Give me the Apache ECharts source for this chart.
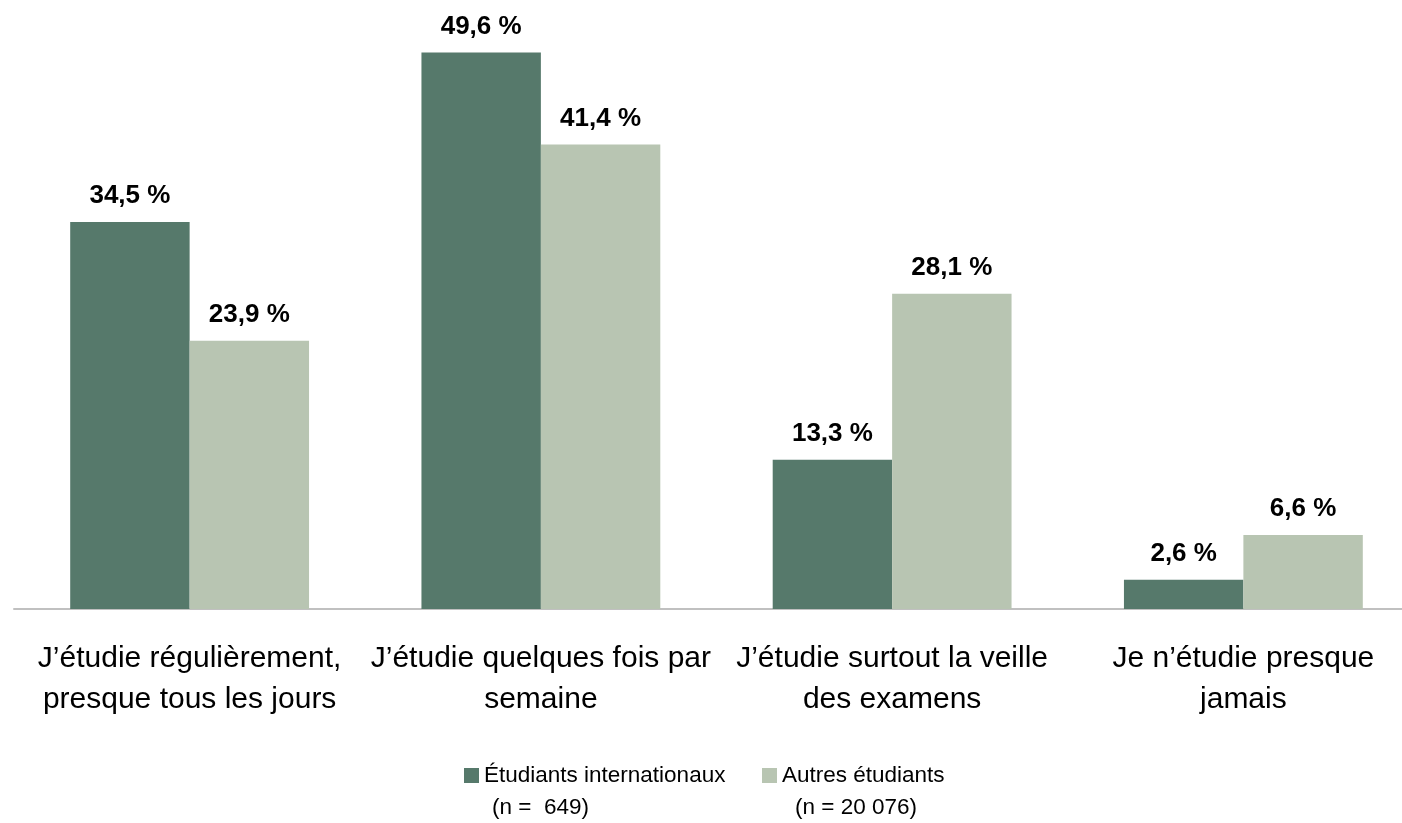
<!DOCTYPE html>
<html>
<head>
<meta charset="utf-8">
<script src="https://cdn.jsdelivr.net/npm/echarts@6/dist/echarts.min.js"></script>
<style>
  html, body { margin: 0; padding: 0; background: #fff; }
  #main { width: 1402px; height: 823px; }
</style>
</head>
<body>
<div id="main"></div>
<script>
// données
var categories = [
  'J\u2019étudie régulièrement,\npresque tous les jours',
  'J\u2019étudie quelques fois par\nsemaine',
  'J\u2019étudie surtout la veille\ndes examens',
  'Je n\u2019étudie presque\njamais'
];
var internationaux = [34.5, 49.6, 13.3, 2.6];
var autres = [23.9, 41.4, 28.1, 6.6];
var seriesNames = ['Étudiants internationaux', 'Autres étudiants'];
var effectifs = ['(n =  649)', '(n = 20 076)'];

var FONT = '"Liberation Sans Narrow", "Arial Narrow", "Liberation Sans", Arial, sans-serif';
var colors = ['#56796b', '#b8c5b2'];

function fmt(v) {
  return v.toFixed(1).replace('.', ',') + ' %';
}

function Chart_1() {
  var chart = echarts.init(document.getElementById('main'));
  var label = {
    show: true,
    position: 'top',
    distance: 13,
    fontFamily: FONT,
    fontWeight: 'bold',
    fontSize: 26,
    color: '#000',
    formatter: function (p) { return fmt(p.value); }
  };
  function legendAt(x, name) {
    return {
      left: x,
      top: 764,
      padding: 0,
      itemWidth: 15,
      itemHeight: 15,
      itemGap: 0,
      icon: 'rect',
      data: [name],
      textStyle: {
        fontFamily: FONT,
        fontSize: 22.5,
        color: '#000'
      }
    };
  }
  var option = {
    animation: false,
    backgroundColor: '#fff',
    grid: {
      left: 14,
      top: 48,
      width: 1405,
      height: 561,
      outerBoundsMode: 'none'
    },
    legend: [
      legendAt(464, seriesNames[0]),
      legendAt(762, seriesNames[1])
    ],
    xAxis: {
      type: 'category',
      data: categories,
      axisTick: { show: false },
      axisLine: { lineStyle: { color: '#c0c0c0', width: 2 } },
      axisLabel: {
        interval: 0,
        margin: 29,
        fontFamily: FONT,
        fontSize: 30,
        lineHeight: 41,
        color: '#000'
      }
    },
    yAxis: {
      type: 'value',
      min: 0,
      max: 50,
      show: false
    },
    graphic: [
      {
        type: 'text', left: 492, top: 796,
        style: { text: effectifs[0], font: '22.5px ' + FONT, fill: '#000' }
      },
      {
        type: 'text', left: 795, top: 796,
        style: { text: effectifs[1], font: '22.5px ' + FONT, fill: '#000' }
      }
    ],
    series: [
      {
        name: seriesNames[0],
        type: 'bar',
        data: internationaux,
        barWidth: '34%',
        barGap: '0%',
        itemStyle: { color: colors[0] },
        label: label
      },
      {
        name: seriesNames[1],
        type: 'bar',
        data: autres,
        barWidth: '34%',
        barGap: '0%',
        itemStyle: { color: colors[1] },
        label: label
      }
    ]
  };
  chart.setOption(option);
}

Chart_1();
</script>
</body>
</html>
